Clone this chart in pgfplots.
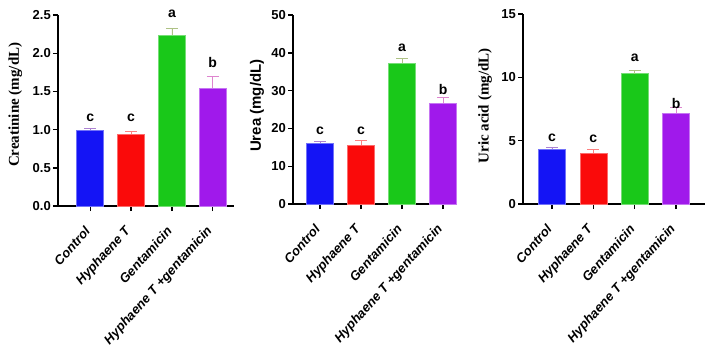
\documentclass[border=0pt]{standalone}
\usepackage{pgfplots}
\pgfplotsset{compat=1.18}
\usepackage{fontspec}
\setmainfont{Liberation Serif}
\setsansfont{Liberation Sans}
\definecolor{cblue}{RGB}{20,20,245}
\definecolor{cred}{RGB}{250,10,10}
\definecolor{cgreen}{RGB}{25,200,25}
\definecolor{cpurple}{RGB}{160,25,235}
\pgfplotsset{
  panel/.style={
    scale only axis,
    axis lines*=left,
    axis line style={line width=1.4pt},
    tick style={line width=1.4pt, black},
    major tick length=5pt,
    tick align=outside,
    xtick={0,1,2,3},
    xticklabels={Control, Hyphaene T, Gentamicin, Hyphaene T +gentamicin},
    xticklabel style={font=\sffamily\bfseries\itshape\fontsize{13}{15}\selectfont, xshift=-2pt, yshift=-17pt, rotate=48, anchor=east, inner sep=1pt},
    yticklabel style={font=\sffamily\bfseries\fontsize{13}{15}\selectfont, inner sep=2pt},
    /pgf/number format/assume math mode=true,
    ymin=0,
    clip=false,
  },
  bar/.style={ybar, bar width=27pt, fill=#1, draw=#1!60!white, line width=0.6pt,
    error bars/.cd, y dir=plus, y explicit,
    error bar style={color=#1!35!pink, line width=0.8pt},
    error mark options={rotate=90, mark size=6pt, line width=0.8pt, color=#1!35!pink}},
  lett/.style={only marks, mark=none, nodes near coords, point meta=explicit symbolic,
    nodes near coords style={font=\sffamily\bfseries\fontsize{14}{16}\selectfont, anchor=south, inner sep=0pt}},
}
\begin{document}
\begin{tikzpicture}
% Panel 1: Creatinine
\begin{axis}[panel, at={(58pt,-206pt)}, anchor=south west, width=176pt, height=191pt,
  xmin=-0.79, xmax=3.52, ymax=2.5, ytick={0,0.5,1,1.5,2,2.5},
  yticklabel style={/pgf/number format/.cd, fixed, fixed zerofill, precision=1},
  ylabel={\rmfamily\bfseries\fontsize{15}{17}\selectfont Creatinine (mg/dL)},
  ylabel style={at={(axis description cs:-0.242,0.53)}, anchor=center}]
\addplot[bar=cblue] coordinates {(0,0.99) +- (0,0.03)};
\addplot[bar=cred] coordinates {(1,0.94) +- (0,0.04)};
\addplot[bar=cgreen] coordinates {(2,2.24) +- (0,0.09)};
\addplot[bar=cpurple] coordinates {(3,1.54) +- (0,0.15)};
\addplot[lett] table[row sep=\\, meta=l] {x y l \\ 0 1.10 c \\ 1 1.10 c \\ 2 2.46 a \\ 3 1.81 b \\};
\end{axis}
% Panel 2: Urea
\begin{axis}[panel, at={(293pt,-204pt)}, anchor=south west, width=160pt, height=189pt,
  xmin=-0.66, xmax=3.24, ymax=50, ytick={0,10,20,30,40,50},
  ylabel={\sffamily\bfseries\fontsize{15}{17}\selectfont Urea (mg/dL)},
  ylabel style={at={(axis description cs:-0.225,0.52)}, anchor=center}]
\addplot[bar=cblue] coordinates {(0,16.1) +- (0,0.4)};
\addplot[bar=cred] coordinates {(1,15.6) +- (0,1.1)};
\addplot[bar=cgreen] coordinates {(2,37.3) +- (0,1.2)};
\addplot[bar=cpurple] coordinates {(3,26.6) +- (0,1.5)};
\addplot[lett] table[row sep=\\, meta=l] {x y l \\ 0 18.3 c \\ 1 18.3 c \\ 2 40.2 a \\ 3 28.9 b \\};
\end{axis}
% Panel 3: Uric acid
\begin{axis}[panel, at={(523pt,-204pt)}, anchor=south west, width=182pt, height=190pt,
  xmin=-0.7, xmax=3.7, ymax=15, ytick={0,5,10,15},
  ylabel={\rmfamily\bfseries\fontsize{15}{17}\selectfont Uric acid (mg/dL)},
  ylabel style={at={(axis description cs:-0.209,0.516)}, anchor=center}]
\addplot[bar=cblue] coordinates {(0,4.34) +- (0,0.09)};
\addplot[bar=cred] coordinates {(1,4.03) +- (0,0.25)};
\addplot[bar=cgreen] coordinates {(2,10.3) +- (0,0.26)};
\addplot[bar=cpurple] coordinates {(3,7.2) +- (0,0.4)};
\addplot[lett] table[row sep=\\, meta=l] {x y l \\ 0 4.9 c \\ 1 4.8 c \\ 2 11.2 a \\ 3 7.55 b \\};
\end{axis}
\pgfresetboundingbox
\useasboundingbox (0pt,0pt) rectangle (709pt,-355pt);
\end{tikzpicture}
\end{document}
